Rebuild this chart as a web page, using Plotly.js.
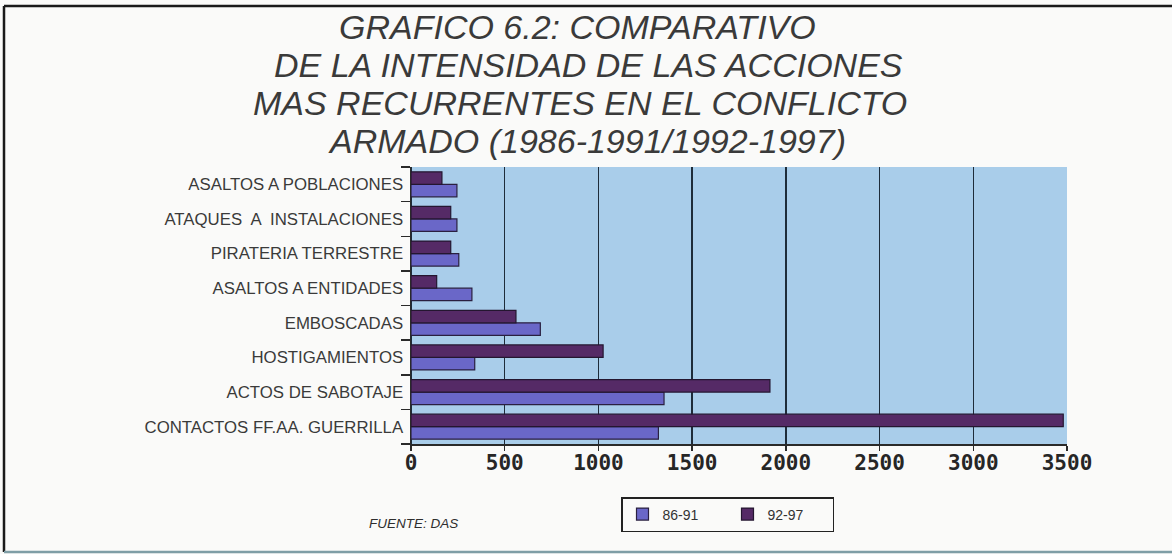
<!DOCTYPE html>
<html>
<head>
<meta charset="utf-8">
<script src="https://cdn.plot.ly/plotly-3.0.1.min.js"></script>
<style>
  html, body { margin: 0; padding: 0; background: #fafaf9; }
  #chart { width: 1172px; height: 554px; }
</style>
</head>
<body>
<div id="chart"></div>
<script>
// Categories listed bottom to top (Plotly draws the first category at the bottom)
const categories = [
  "CONTACTOS FF.AA. GUERRILLA",
  "ACTOS DE SABOTAJE",
  "HOSTIGAMIENTOS",
  "EMBOSCADAS",
  "ASALTOS A ENTIDADES",
  "PIRATERIA TERRESTRE",
  "ATAQUES  A  INSTALACIONES",
  "ASALTOS A POBLACIONES"
];
const values8691 = [1320, 1350, 340, 690, 325, 255, 245, 245];
const values9297 = [3480, 1915, 1025, 560, 137, 212, 212, 165];
const seriesNames = ["86-91", "92-97"];
const xTicks = [0, 500, 1000, 1500, 2000, 2500, 3000, 3500];
const titleLines = [
  "GRAFICO 6.2: COMPARATIVO",
  "DE LA INTENSIDAD DE LAS ACCIONES",
  "MAS RECURRENTES EN EL CONFLICTO",
  "ARMADO (1986-1991/1992-1997)"
];
const sourceText = "FUENTE: DAS";

// plot-area pixel geometry helpers (for annotation placement only)
const W = 1172, H = 554;
const L = 411, R = 105, T = 167, B = 110;
const pw = W - L - R, ph = H - T - B;
const px = x => (x - L) / pw;
const py = y => (H - B - y) / ph;

const traces = [
  {
    type: "bar", orientation: "h", name: seriesNames[0],
    y: categories, x: values8691,
    marker: { color: "#6a67c8", line: { color: "#2a2040", width: 1.2 } },
    hoverinfo: "x+name"
  },
  {
    type: "bar", orientation: "h", name: seriesNames[1],
    y: categories, x: values9297,
    marker: { color: "#552a66", line: { color: "#241630", width: 1.2 } },
    hoverinfo: "x+name"
  }
];

const titleFont = { family: "Liberation Sans, Arial, sans-serif", color: "#3a3a3a", style: "italic", size: 34 };
const titleY = [27, 65, 103, 141];
const titleX = [577, 588, 580, 587];
const annotations = titleLines.map((t, i) => ({
  text: t, xref: "paper", yref: "paper",
  x: px(titleX[i]), y: py(titleY[i]), xanchor: "center", yanchor: "middle",
  showarrow: false, font: titleFont
}));
annotations.push({
  text: sourceText, xref: "paper", yref: "paper",
  x: px(367), y: py(523), xanchor: "left", yanchor: "middle", showarrow: false,
  font: { family: "Liberation Sans, Arial, sans-serif", size: 13.5, color: "#2e2e2e", style: "italic" }
});

const layout = {
  width: W, height: H,
  margin: { l: L, r: R, t: T, b: B, pad: 0 },
  paper_bgcolor: "#fafaf9",
  plot_bgcolor: "#a9cdea",
  barmode: "group",
  bargap: 0.28,
  bargroupgap: 0,
  showlegend: true,
  legend: {
    orientation: "h",
    x: px(621), y: py(497), xanchor: "left", yanchor: "top",
    bgcolor: "#fafaf9", bordercolor: "#222", borderwidth: 1.5,
    font: { family: "Liberation Sans, Arial, sans-serif", size: 14, color: "#333" },
    itemwidth: 30, entrywidth: 60, entrywidthmode: "pixels",
    traceorder: "normal"
  },
  xaxis: {
    range: [0, 3500],
    tickvals: xTicks,
    ticktext: xTicks.map(String),
    showgrid: true, gridcolor: "#1e2c3a", gridwidth: 1.5,
    zeroline: true, zerolinecolor: "#1e2c3a", zerolinewidth: 1.5,
    showline: true, linecolor: "#2a2a2a", linewidth: 1.5,
    ticks: "outside", ticklen: 5, tickcolor: "#2a2a2a", tickwidth: 1.5,
    ticklabelstandoff: -6,
    tickfont: { family: "DejaVu Sans Mono, monospace", size: 21, color: "#262626", weight: "bold" },
    fixedrange: true
  },
  yaxis: {
    type: "category",
    showgrid: false,
    showline: true, linecolor: "#2a2a2a", linewidth: 1.5,
    ticks: "outside", ticklen: 9, tickcolor: "#2a2a2a", tickwidth: 1.5,
    tickson: "boundaries",
    ticklabelstandoff: 3,
    tickfont: { family: "Liberation Sans, Arial, sans-serif", size: 16.8, color: "#3a3a3a" },
    fixedrange: true
  },
  annotations: annotations,
  shapes: [
    { type: "line", xref: "paper", yref: "paper", x0: px(4), x1: px(1180), y0: py(6), y1: py(6),
      line: { color: "#1a1a1a", width: 2.5 } },
    { type: "line", xref: "paper", yref: "paper", x0: px(4), x1: px(4), y0: py(6), y1: py(552),
      line: { color: "#1a1a1a", width: 2.5 } },
    { type: "line", xref: "paper", yref: "paper", x0: px(4), x1: px(1180), y0: py(552), y1: py(552),
      line: { color: "#7f9ea6", width: 2.5 } }
  ]
};

Plotly.newPlot("chart", traces, layout, { displayModeBar: false, staticPlot: true });
</script>
</body>
</html>
